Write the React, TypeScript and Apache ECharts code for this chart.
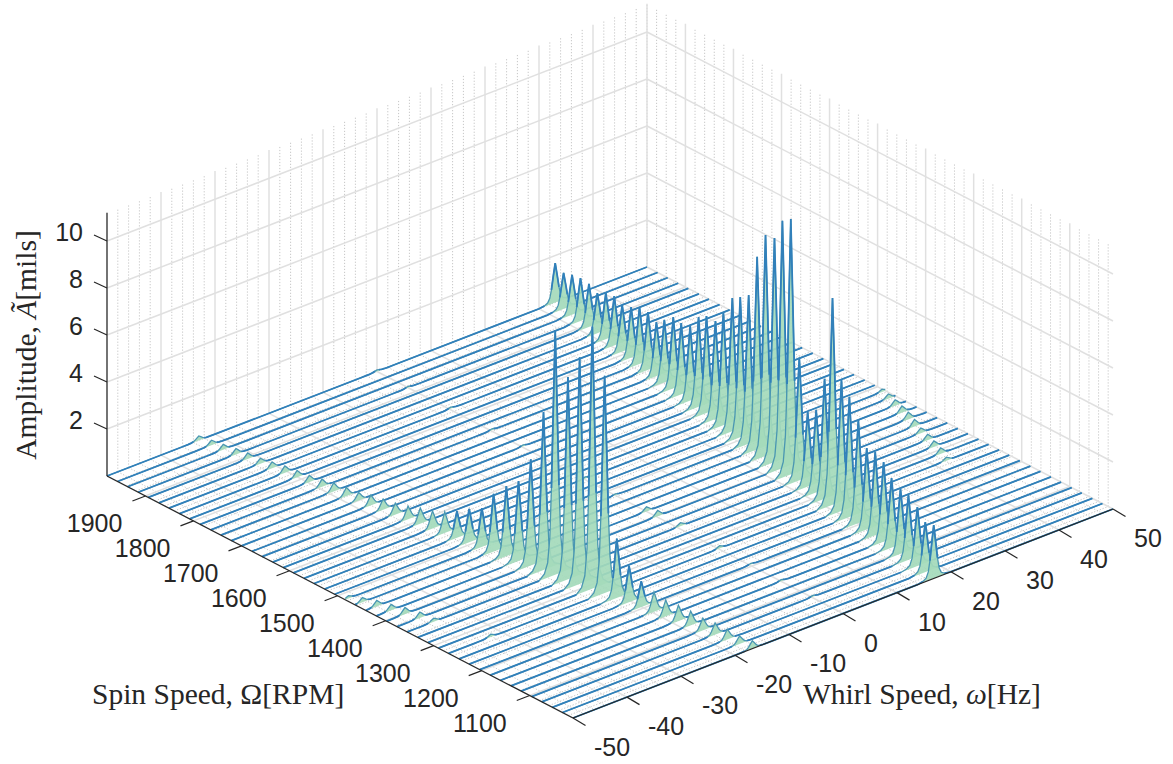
import React, { useEffect, useRef } from "react";
import * as echarts from "echarts";

const spinSpeeds = [1980,1958,1937,1915,1894,1872,1851,1829,1808,1786,1764,1743,1721,1700,1678,1657,1635,1613,1592,1570,1549,1527,1506,1484,1463,1441,1419,1398,1376,1355,1333,1312,1290,1269,1247,1226,1204,1182,1161,1139,1118,1096,1075,1053,1032,1010];
const forwardWhirl = [33.0,32.6,32.3,31.9,31.6,31.2,30.9,30.5,30.1,29.8,29.4,29.1,28.7,28.3,28.0,27.6,27.3,26.9,26.5,26.2,25.8,25.5,25.1,24.7,24.4,24.0,23.7,23.3,22.9,22.6,22.2,21.9,21.5,21.1,20.8,20.4,20.1,19.7,19.4,19.0,18.6,18.3,17.9,17.6,17.2,16.8];
const backwardWhirl = forwardWhirl.map((w) => -w);
const forwardAmp = [1.68,1.53,1.7,1.83,1.83,1.71,1.97,2.1,1.98,2.15,2.42,2.46,2.3,2.65,3.03,3.04,3.17,3.82,4.12,4.17,4.8,5.67,5.97,6.32,8.2,9.4,9.53,10.52,10.86,5.21,3.17,3.51,5.1,8.8,5.57,5.11,4.39,3.46,3.55,3.39,2.96,2.76,2.76,2.51,2.13,2.27];
const backwardAmp = [0.19,0.21,0.23,0.25,0.26,0.23,0.27,0.3,0.29,0.29,0.33,0.37,0.37,0.34,0.44,0.46,0.49,0.56,0.67,0.75,0.9,1.13,1.42,1.65,2.45,2.98,3.4,4.52,6.72,10.41,8.61,9.65,11.15,9.24,2.52,1.55,1.1,0.84,0.69,0.67,0.61,0.52,0.5,0.44,0.34,0.33];
// [line index, whirl, amplitude]
const minorPeaks = [
  [23,49.4,0.12],[24,48.7,0.2],[25,48.0,0.25],[26,47.3,0.28],[27,46.6,0.3],[28,45.8,0.3],[29,45.1,0.22],[30,44.4,0.25],[31,43.7,0.25],[32,43.0,0.25],[33,42.2,0.15],
  [23,-49.4,0.12],[24,-48.7,0.2],[25,-48.0,0.25],[26,-47.3,0.25],[27,-46.6,0.28],[28,-45.8,0.25],[29,-45.1,0.15],[33,-42.2,0.12],
  [26,0.0,0.2],[27,0.2,0.25],[29,0.6,0.15],[33,0.2,0.12],
  [0,0,0.07],[3,0,0.06],[7,0.2,0.07],[11,0.2,0.06],[14,0.2,0.07],[17,0,0.06],[20,0.2,0.07],[23,0,0.06],[36,0.2,0.06],[39,0,0.07],[42,0.2,0.06],
];
const profileOffset = [-3,-2,-1.4,-1,-0.7,-0.36,0,0.36,0.7,1,1.4,2,3];
const profileRatio = [0,0.02,0.06,0.16,0.36,0.68,1,0.68,0.36,0.16,0.06,0.02,0];

const whirlTicks = [-50,-40,-30,-20,-10,0,10,20,30,40,50];
const spinTicks = [1900,1800,1700,1600,1500,1400,1300,1200,1100];
const ampTicks = [2,4,6,8,10];
const whirlMinor = [-48,-46,-44,-42,-38,-36,-34,-32,-28,-26,-24,-22,-18,-16,-14,-12,-8,-6,-4,-2,2,4,6,8,12,14,16,18,22,24,26,28,32,34,36,38,42,44,46,48];
const spinMinor = [1980,1960,1940,1920,1880,1860,1840,1820,1780,1760,1740,1720,1680,1660,1640,1620,1580,1560,1540,1520,1480,1460,1440,1420,1380,1360,1340,1320,1280,1260,1240,1220,1180,1160,1140,1120,1080,1060,1040,1020];

const W_MIN = -50, W_MAX = 50, S_MAX = 1980, S_MIN = 1010, A_MAX = 11.2;
const project = (w: number, s: number, a: number) => [
  107 + (w - W_MIN) * 5.4 + (S_MAX - s) * 0.4804,
  476 - (w - W_MIN) * 2.09 + (S_MAX - s) * 0.2495 - a * 23.5,
];

const INK = "#262626";
const BLUE = "#3180ba";
const TEAL = "#4a97b2";
const GREEN = "#a4dabb";

type Peak = { w: number; a: number };
const peaksOfLine = (i: number): Peak[] => {
  const out: Peak[] = [
    { w: forwardWhirl[i], a: forwardAmp[i] },
    { w: backwardWhirl[i], a: backwardAmp[i] },
  ];
  minorPeaks.forEach(([li, w, a]) => { if (li === i) out.push({ w, a }); });
  return out;
};
const shape = (d: number) => {
  if (d <= profileOffset[0] || d >= profileOffset[profileOffset.length - 1]) return 0;
  for (let k = 1; k < profileOffset.length; k++) {
    if (d <= profileOffset[k]) {
      const t = (d - profileOffset[k - 1]) / (profileOffset[k] - profileOffset[k - 1]);
      return profileRatio[k - 1] + t * (profileRatio[k] - profileRatio[k - 1]);
    }
  }
  return 0;
};
// each sample: [whirl, amplitude, 1 when it belongs to the strong blue stroke]
const lineSamples = (i: number) => {
  const peaks = peaksOfLine(i);
  const xs = new Set<number>([W_MIN, W_MAX]);
  peaks.forEach((p) => profileOffset.forEach((o) => {
    const w = p.w + o;
    if (w > W_MIN && w < W_MAX) xs.add(w);
  }));
  return [...xs].sort((a, b) => a - b).map((w) => {
    let a = 0;
    let spike = false;
    peaks.forEach((p) => {
      a += p.a * shape(w - p.w);
      if (p.a >= 1 && Math.abs(w - p.w) <= 0.71) spike = true;
    });
    return [w, a, spike || a < 0.05 ? 1 : 0];
  });
};

// grid segments: [w1,s1,a1,w2,s2,a2,kind]  kind 0 major, 1 minor
const segments: number[][] = [];
spinMinor.forEach((s) => segments.push([W_MIN, s, 0, W_MAX, s, 0, 1]));
whirlMinor.forEach((w) => segments.push([w, S_MAX, 0, w, S_MIN, 0, 1]));
spinMinor.forEach((s) => segments.push([W_MAX, s, 0, W_MAX, s, A_MAX, 1]));
whirlMinor.forEach((w) => segments.push([w, S_MAX, 0, w, S_MAX, A_MAX, 1]));
spinTicks.forEach((s) => {
  segments.push([W_MIN, s, 0, W_MAX, s, 0, 0]);
  segments.push([W_MAX, s, 0, W_MAX, s, A_MAX, 0]);
});
whirlTicks.forEach((w) => {
  segments.push([w, S_MAX, 0, w, S_MIN, 0, 0]);
  segments.push([w, S_MAX, 0, w, S_MAX, A_MAX, 0]);
});
ampTicks.forEach((a) => {
  segments.push([W_MIN, S_MAX, a, W_MAX, S_MAX, a, 0]);
  segments.push([W_MAX, S_MAX, a, W_MAX, S_MIN, a, 0]);
});

export default function App() {
  const ref = useRef<HTMLDivElement>(null);
  useEffect(() => {
    document.body.style.margin = "0";
    const chart = echarts.init(ref.current!, undefined, { renderer: "svg" });
    const toPx = (api: any, w: number, s: number, a: number) => api.coord(project(w, s, a));

    const gridSeries = {
      type: "custom",
      silent: true,
      z: 1,
      data: segments,
      renderItem: (_: any, api: any) => {
        const v = [0, 1, 2, 3, 4, 5, 6].map((k) => api.value(k));
        const p1 = toPx(api, v[0], v[1], v[2]);
        const p2 = toPx(api, v[3], v[4], v[5]);
        const major = v[6] === 0;
        return {
          type: "line",
          shape: { x1: p1[0], y1: p1[1], x2: p2[0], y2: p2[1] },
          style: major
            ? { stroke: "#e0e0e0", lineWidth: 1.5 }
            : { stroke: "#c6c6c6", lineWidth: 1, lineDash: [1.2, 1.8] },
        };
      },
    };

    const ribbons = {
      type: "custom",
      silent: true,
      z: 2,
      data: spinSpeeds.map((s, i) => [i, s]),
      renderItem: (_: any, api: any) => {
        const i = api.value(0);
        const s = api.value(1);
        const samples = lineSamples(i);
        const pts = samples.map(([w, a]) => toPx(api, w, s, a));
        const fillPts = [toPx(api, W_MIN, s, 0), ...pts, toPx(api, W_MAX, s, 0)];
        const runs: number[][][] = [];
        let run: number[][] = [];
        samples.forEach((smp, k) => {
          if (smp[2]) run.push(pts[k]);
          else {
            if (run.length > 1) runs.push(run);
            run = [];
          }
        });
        if (run.length > 1) runs.push(run);
        return {
          type: "group",
          children: [
            { type: "polygon", shape: { points: fillPts }, style: { fill: GREEN, opacity: 0.92 } },
            { type: "polyline", shape: { points: pts }, style: { stroke: TEAL, lineWidth: 1.3, fill: "none" } },
            ...runs.map((r) => ({
              type: "polyline",
              shape: { points: r },
              style: { stroke: BLUE, lineWidth: 1.8, fill: "none" },
            })),
          ],
        };
      },
    };

    const axisSegs = [
      [W_MIN, S_MAX, 0, W_MIN, S_MAX, A_MAX],
      [W_MIN, S_MAX, 0, W_MIN, S_MIN, 0],
      [W_MIN, S_MIN, 0, W_MAX, S_MIN, 0],
    ];
    const tickKinds = [
      ...ampTicks.map((a) => [0, a]),
      ...spinTicks.map((s) => [1, s]),
      ...whirlTicks.map((w) => [2, w]),
    ];
    const axes = {
      type: "custom",
      silent: true,
      z: 3,
      data: [...axisSegs.map((a) => [-1, ...a]), ...tickKinds.map((t) => [t[0], t[1], 0, 0, 0, 0, 0])],
      renderItem: (_: any, api: any) => {
        const kind = api.value(0);
        let p1: number[], p2: number[];
        if (kind === -1) {
          p1 = toPx(api, api.value(1), api.value(2), api.value(3));
          p2 = toPx(api, api.value(4), api.value(5), api.value(6));
        } else if (kind === 0) {
          p1 = toPx(api, W_MIN, S_MAX, api.value(1));
          p2 = [p1[0] - 13, p1[1] - 6];
        } else if (kind === 1) {
          p1 = toPx(api, W_MIN, api.value(1), 0);
          p2 = [p1[0] - 13, p1[1] + 5];
        } else {
          p1 = toPx(api, api.value(1), S_MIN, 0);
          p2 = [p1[0] + 12.5, p1[1] + 7.5];
        }
        return {
          type: "line",
          shape: { x1: p1[0], y1: p1[1], x2: p2[0], y2: p2[1] },
          style: { stroke: INK, lineWidth: 1.2 },
        };
      },
    };

    const labelData = [
      ...ampTicks.map((a) => [0, a]),
      ...spinTicks.map((s) => [1, s]),
      ...whirlTicks.map((w) => [2, w]),
    ];
    const labels = {
      type: "custom",
      silent: true,
      z: 4,
      data: labelData,
      renderItem: (_: any, api: any) => {
        const kind = api.value(0);
        const val = api.value(1);
        let x = 0, y = 0, align = "right";
        if (kind === 0) {
          const p = toPx(api, W_MIN, S_MAX, val);
          x = p[0] - 24; y = p[1] - 9;
        } else if (kind === 1) {
          const p = toPx(api, W_MIN, val, 0);
          x = p[0] - 23; y = p[1] + 27;
        } else {
          const p = toPx(api, val, S_MIN, 0);
          x = p[0] + 21; y = p[1] + 29; align = "left";
        }
        return {
          type: "text",
          x, y,
          style: {
            text: String(val),
            fontFamily: "Liberation Sans",
            fontSize: 25,
            fill: INK,
            align,
            verticalAlign: "middle",
          },
        };
      },
    };

    const serif = { fontFamily: "Liberation Serif", fontSize: 29.5, fill: INK };
    const rich = {
      a: { ...serif },
      b: { ...serif, fontStyle: "italic" },
    };

    chart.setOption({
      animation: false,
      backgroundColor: "#ffffff",
      grid: { left: 0, right: 0, top: 0, bottom: 0 },
      xAxis: { type: "value", min: 0, max: 1173, show: false },
      yAxis: { type: "value", min: 0, max: 764, inverse: true, show: false },
      series: [gridSeries, ribbons, axes, labels],
      graphic: [
        {
          type: "text", x: 92, y: 694, z: 10, silent: true,
          style: { text: "{a|Spin Speed, Ω[RPM]}", rich, verticalAlign: "middle", align: "left" },
        },
        {
          type: "text", x: 803, y: 694, z: 10, silent: true,
          style: { text: "{a|Whirl Speed, }{b|ω}{a|[Hz]}", rich, verticalAlign: "middle", align: "left" },
        },
        {
          type: "text", x: 26, y: 345, z: 10, silent: true, rotation: Math.PI / 2,
          style: { text: "{a|Amplitude, }{b|Ã}{a|[mils]}", rich, verticalAlign: "middle", align: "center" },
        },
      ],
    });
    return () => chart.dispose();
  }, []);
  return <div ref={ref} style={{ position: "absolute", left: 0, top: 0, width: 1173, height: 764 }} />;
}
